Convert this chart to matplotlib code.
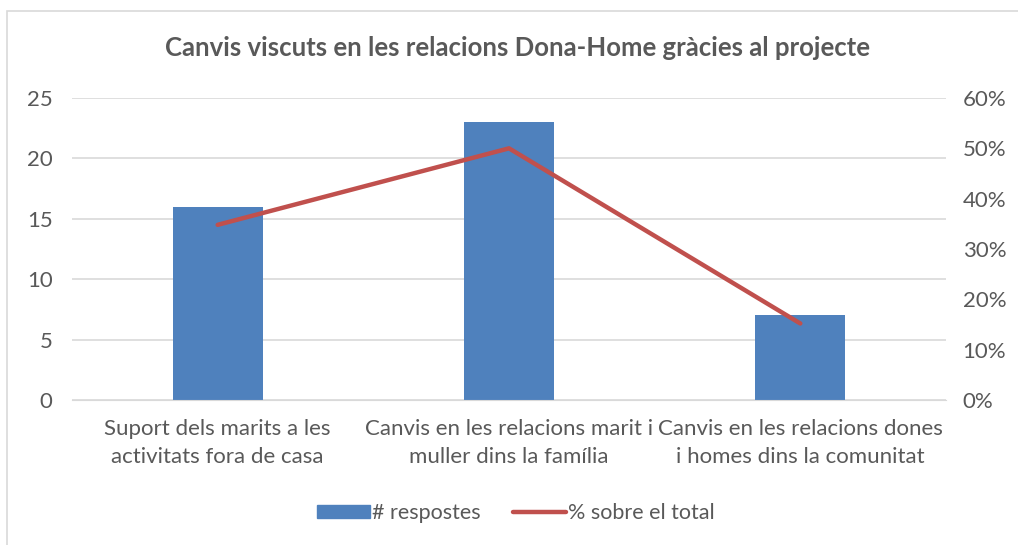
import matplotlib.pyplot as plt
from matplotlib.patches import Rectangle
from matplotlib.lines import Line2D
from matplotlib.ticker import PercentFormatter

plt.rcParams['font.family'] = ['Lato', 'DejaVu Sans']

categories = ['Suport dels marits a les\nactivitats fora de casa',
              'Canvis en les relacions marit i\nmuller dins la família',
              'Canvis en les relacions dones\ni homes dins la comunitat']
respostes = [16, 23, 7]
percent = [0.348, 0.50, 0.152]

bar_color = '#4F81BD'
line_color = '#C0504D'
text_color = '#595959'
grid_color = '#D9D9D9'

W, H = 1018, 545
fig = plt.figure(figsize=(W / 100, H / 100), dpi=100)

# chart area frame, clipped at right and bottom
fig.patches.append(Rectangle((7 / W, -0.1), 1.2, 1 - 11 / H + 0.1,
                             transform=fig.transFigure, fill=False,
                             edgecolor=grid_color, linewidth=1.2))

ax = fig.add_axes([72 / W, 1 - 400 / H, (946 - 72) / W, (400 - 98) / H])
x = range(len(categories))
ax.bar(x, respostes, width=0.31, color=bar_color, zorder=2)
ax.set_xlim(-0.5, len(categories) - 0.5)
ax.set_ylim(0, 25)
ax.set_yticks(range(0, 26, 5))
ax.yaxis.grid(True, color=grid_color, linewidth=1.2, zorder=0)
ax.set_xticks(list(x))
ax.set_xticklabels(categories, fontsize=16, color=text_color, linespacing=1.45)
for s in ax.spines.values():
    s.set_visible(False)
ax.spines['bottom'].set_visible(True)
ax.spines['bottom'].set_color(grid_color)
ax.tick_params(axis='both', length=0, labelsize=16, colors=text_color)
ax.tick_params(axis='y', pad=14)
ax.tick_params(axis='x', pad=14)

ax2 = ax.twinx()
ax2.plot(x, percent, color=line_color, linewidth=3.2, solid_capstyle='round', zorder=3)
ax2.set_ylim(0, 0.6)
ax2.set_yticks([i / 10 for i in range(7)])
ax2.yaxis.set_major_formatter(PercentFormatter(1.0, decimals=0))
for s in ax2.spines.values():
    s.set_visible(False)
ax2.tick_params(axis='y', length=0, labelsize=16, colors=text_color, pad=12)

fig.text(0.508, 1 - 48 / H, 'Canvis viscuts en les relacions Dona-Home gràcies al projecte',
         ha='center', va='center', fontsize=18.5, fontweight='bold', color=text_color)

handles = [Rectangle((0, 0), 1, 1, color=bar_color),
           Line2D([], [], color=line_color, linewidth=3.2, solid_capstyle='round')]
fig.legend(handles, ['# respostes', '% sobre el total'], loc='center',
           bbox_to_anchor=(0.507, 1 - 513 / H), ncol=2, frameon=False,
           fontsize=15.5, labelcolor=text_color, handlelength=2.45, handleheight=0.6,
           handletextpad=0.1, columnspacing=1.5)

fig.savefig('out.png', dpi=100)
